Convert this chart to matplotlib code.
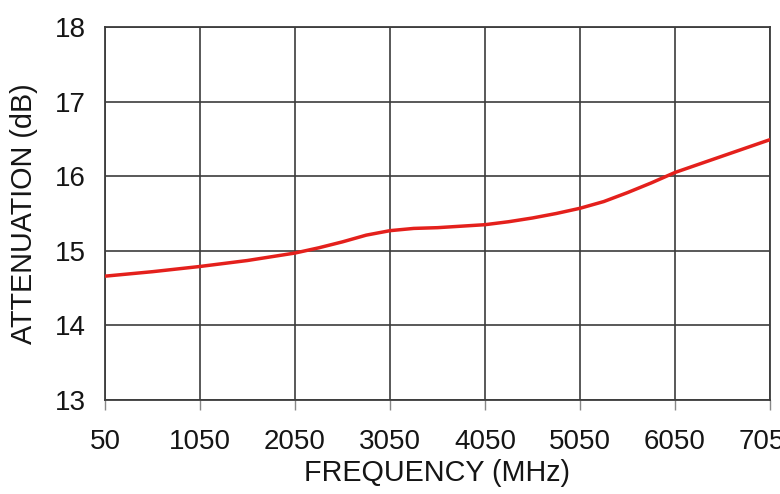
import matplotlib
matplotlib.use("Agg")
import matplotlib.pyplot as plt

freq_mhz = [50, 550, 1050, 1550, 2050, 2300, 2550, 2800, 3050, 3300, 3550, 3800, 4050, 4300, 4550, 4800, 5050, 5300, 5550, 5800, 6050, 6300, 6550, 6800, 7050]
atten_db = [14.66, 14.72, 14.79, 14.87, 14.97, 15.04, 15.12, 15.21, 15.27, 15.30, 15.31, 15.33, 15.35, 15.39, 15.44, 15.50, 15.57, 15.66, 15.78, 15.91, 16.05, 16.16, 16.27, 16.38, 16.49]

x_ticks = [50, 1050, 2050, 3050, 4050, 5050, 6050, 7050]
y_ticks = [13, 14, 15, 16, 17, 18]

plt.rcParams['font.family'] = ['Liberation Sans', 'DejaVu Sans']

fig = plt.figure(figsize=(7.8, 4.94), dpi=100)
ax = fig.add_axes([105/780, 94/494, 665/780, 373/494])

gc = '#3c3c3c'
tc = '#151515'
ax.plot(freq_mhz, atten_db, color='#e4201c', lw=2.5, solid_capstyle='round',
        solid_joinstyle='round', zorder=3)

ax.set_xlim(50, 7050)
ax.set_ylim(13, 18)
ax.set_xticks(x_ticks)
ax.set_yticks(y_ticks)
ax.set_xticklabels([str(v) for v in x_ticks], fontsize=20, color=tc)
ax.set_yticklabels([str(v) for v in y_ticks], fontsize=20, color=tc)
ax.grid(True, color=gc, lw=1.2)
ax.set_axisbelow(True)
for s in ax.spines.values():
    s.set_color(gc)
    s.set_linewidth(1.3)
ax.tick_params(axis='x', direction='out', length=7, width=1.0, color='#888888', pad=14)
ax.tick_params(axis='y', length=0, pad=14)

ax.set_xlabel('FREQUENCY (MHz)', fontsize=20.7, labelpad=3, color=tc)
ax.set_ylabel('ATTENUATION (dB)', fontsize=20.7, labelpad=12, color=tc)

fig.savefig('out.png', dpi=100)
